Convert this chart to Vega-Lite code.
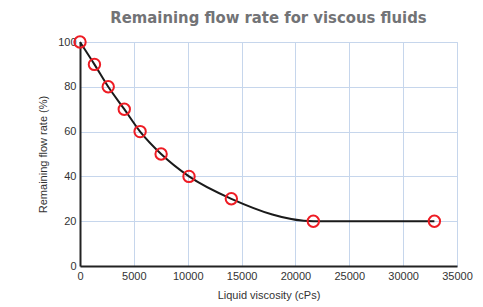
{
  "$schema": "https://vega.github.io/schema/vega-lite/v6.json",
  "autosize": "none",
  "width": 377,
  "height": 224,
  "padding": {"left": 80, "top": 42, "right": 26, "bottom": 41},
  "background": "white",
  "title": {
    "text": "Remaining flow rate for viscous fluids",
    "font": "DejaVu Sans Condensed",
    "fontSize": 16.5,
    "fontWeight": "bold",
    "color": "#727376",
    "anchor": "middle",
    "offset": 6
  },
  "data": {
    "values": [
      {"viscosity": 0, "flow": 100},
      {"viscosity": 1340, "flow": 90},
      {"viscosity": 2620, "flow": 80},
      {"viscosity": 4110, "flow": 70},
      {"viscosity": 5580, "flow": 60},
      {"viscosity": 7530, "flow": 50},
      {"viscosity": 10120, "flow": 40},
      {"viscosity": 14050, "flow": 30},
      {"viscosity": 21660, "flow": 20},
      {"viscosity": 32900, "flow": 20}
    ]
  },
  "encoding": {
    "x": {
      "field": "viscosity",
      "type": "quantitative",
      "scale": {"domain": [0, 35000], "nice": false},
      "axis": {
        "title": "Liquid viscosity (cPs)",
        "values": [0, 5000, 10000, 15000, 20000, 25000, 30000, 35000],
        "format": "d",
        "ticks": false,
        "labelFlush": false,
        "labelPadding": 4,
        "domainColor": "#222222",
        "domainWidth": 2,
        "gridColor": "#c6d6ec",
        "gridWidth": 1,
        "labelFont": "Liberation Sans",
        "labelFontSize": 11,
        "labelColor": "#333333",
        "titleFont": "Liberation Sans",
        "titleFontSize": 11,
        "titleFontWeight": "normal",
        "titleColor": "#333333",
        "titlePadding": 8
      }
    },
    "y": {
      "field": "flow",
      "type": "quantitative",
      "scale": {"domain": [0, 100], "nice": false},
      "axis": {
        "title": "Remaining flow rate (%)",
        "values": [0, 20, 40, 60, 80, 100],
        "ticks": false,
        "labelFlush": false,
        "labelPadding": 4,
        "domainColor": "#222222",
        "domainWidth": 2,
        "gridColor": "#c6d6ec",
        "gridWidth": 1,
        "labelFont": "Liberation Sans",
        "labelFontSize": 11,
        "labelColor": "#333333",
        "titleFont": "Liberation Sans",
        "titleFontSize": 11,
        "titleFontWeight": "normal",
        "titleColor": "#333333",
        "titlePadding": 9
      }
    }
  },
  "layer": [
    {
      "mark": {"type": "line", "interpolate": "monotone", "color": "#1a1a1a", "strokeWidth": 2}
    },
    {
      "mark": {"type": "point", "shape": "circle", "filled": false, "color": "#ee1c24", "strokeWidth": 2, "size": 130, "opacity": 1}
    }
  ],
  "config": {
    "view": {"stroke": "#c6d6ec"}
  }
}
